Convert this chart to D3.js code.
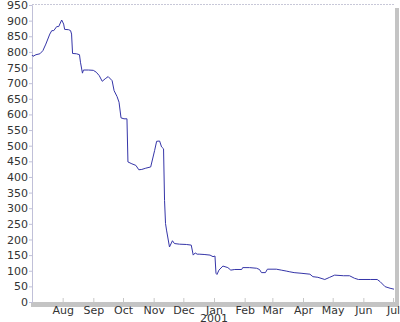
<!DOCTYPE html>
<html>
<head>
<meta charset="utf-8">
<script src="https://cdn.jsdelivr.net/npm/d3@7"></script>
<style>
  body { margin: 0; background: #fff; }
  text { font-family: "DejaVu Sans", Verdana, sans-serif; }
</style>
</head>
<body>
<div id="plot"></div>
<script>
// Width and height
const w = 400;
const h = 322;
const margin = {top: 5, right: 5, bottom: 20, left: 32};
const innerWidth = w - margin.left - margin.right;
const innerHeight = h - margin.top - margin.bottom;

// series
const dates = [
  "2000-07-01","2000-07-02","2000-07-05","2000-07-09","2000-07-12","2000-07-15",
  "2000-07-19","2000-07-21","2000-07-23","2000-07-26","2000-07-28","2000-07-31",
  "2000-08-02","2000-08-03","2000-08-07","2000-08-09","2000-08-10","2000-08-11",
  "2000-08-15","2000-08-18","2000-08-19","2000-08-21","2000-08-22","2000-08-27",
  "2000-09-01","2000-09-04","2000-09-07","2000-09-10","2000-09-13","2000-09-16",
  "2000-09-20","2000-09-22","2000-09-25","2000-09-27","2000-09-29","2000-10-02",
  "2000-10-05","2000-10-06","2000-10-10","2000-10-14","2000-10-17","2000-10-20",
  "2000-10-24","2000-10-29","2000-11-02","2000-11-04","2000-11-07","2000-11-09",
  "2000-11-11","2000-11-12","2000-11-13","2000-11-14","2000-11-17","2000-11-20",
  "2000-11-22","2000-11-27","2000-12-04","2000-12-09","2000-12-11","2000-12-13",
  "2000-12-15","2000-12-17","2000-12-22","2000-12-28","2000-12-31","2001-01-02",
  "2001-01-03","2001-01-04","2001-01-06","2001-01-10","2001-01-15","2001-01-18",
  "2001-01-22","2001-01-29","2001-01-30","2001-02-06","2001-02-13","2001-02-16",
  "2001-02-18","2001-02-22","2001-02-24","2001-03-05","2001-03-10","2001-03-15",
  "2001-03-18","2001-03-23","2001-03-30","2001-04-08","2001-04-11","2001-04-16",
  "2001-04-23","2001-04-28","2001-05-03","2001-05-12","2001-05-18","2001-05-23",
  "2001-05-27","2001-06-08","2001-06-15","2001-06-18","2001-06-23","2001-06-28",
  "2001-07-02"
];
const values = [
  790, 786, 791, 794, 804, 825,
  857, 868, 868, 881, 881, 902,
  889, 872, 871, 868, 857, 795,
  794, 791, 767, 732, 742, 742,
  741, 735, 724, 706, 714, 721,
  708, 676, 657, 639, 589, 586,
  586, 448, 442, 437, 423, 424,
  428, 432, 485, 514, 515, 496,
  490, 325, 251, 230, 176, 196,
  187, 185, 184, 182, 150, 157,
  153, 153, 152, 150, 145, 147,
  92, 88, 102, 115, 110, 102,
  104, 104, 110, 110, 108, 104,
  94, 94, 105, 105, 102, 99,
  97, 94, 92, 89, 81, 79,
  72, 79, 86, 84, 84, 76,
  72, 72, 72, 65, 49, 44,
  41
];
const yTicks = [0, 50, 100, 150, 200, 250, 300, 350, 400, 450, 500, 550, 600,
                650, 700, 750, 800, 850, 900, 950];
const monthLabels = ["Aug","Sep","Oct","Nov","Dec","Jan","Feb","Mar","Apr","May","Jun","Jul"];

const parse = d3.timeParse("%Y-%m-%d");
const data = dates.map((d, i) => ({date: parse(d), value: values[i]}));
const monthTicks = d3.timeMonth.range(parse("2000-08-01"), parse("2001-07-02"));

const svg = d3.select("div#plot")
  .append("svg")
    .attr("width", w)
    .attr("height", h);

svg.append("rect")
  .attr("width", w)
  .attr("height", h)
  .attr("fill", "#ffffff");

const xScale = d3.scaleTime()
  .domain([parse("2000-07-01"), parse("2001-07-03")])
  .range([0, innerWidth]);

const yScale = d3.scaleLinear()
  .domain([0, 950])
  .range([innerHeight, 0]);

const g = svg.append("g")
  .attr("id", "plot")
  .attr("transform", `translate(${margin.left}, ${margin.top})`);

// shadow on the right and bottom
g.append("rect")
  .attr("x", innerWidth)
  .attr("y", 3)
  .attr("width", 4)
  .attr("height", innerHeight + 2)
  .attr("fill", "#c4c4c4");
g.append("rect")
  .attr("x", -1)
  .attr("y", innerHeight)
  .attr("width", innerWidth + 5)
  .attr("height", 5)
  .attr("fill", "#c4c4c4");

// top border, dotted
g.append("line")
  .attr("x1", 0)
  .attr("x2", innerWidth)
  .attr("y1", -0.5)
  .attr("y2", -0.5)
  .attr("stroke", "#c8c8d8")
  .attr("stroke-dasharray", "2,1");

// y-axis
const yAxis = d3.axisLeft(yScale)
  .tickValues(yTicks)
  .tickSize(3)
  .tickPadding(1);

g.append("g")
  .attr("id", "yaxis")
  .call(yAxis)
  .call(a => a.select(".domain").attr("stroke", "#c0c0d8"))
  .call(a => a.selectAll(".tick line").attr("stroke", "#c0c0d8"))
  .call(a => a.selectAll(".tick text")
    .attr("fill", "#333")
    .style("font-size", "11px"));

// x-axis
const xAxis = d3.axisBottom(xScale)
  .tickValues(monthTicks)
  .tickSize(-4)
  .tickPadding(4)
  .tickFormat((d, i) => monthLabels[i]);

g.append("g")
  .attr("id", "xaxis")
  .attr("transform", `translate(0, ${innerHeight})`)
  .call(xAxis)
  .call(a => a.select(".domain").remove())
  .call(a => a.selectAll(".tick line").attr("stroke", "#c8c8c8"))
  .call(a => a.selectAll(".tick text")
    .attr("fill", "#333")
    .style("font-size", "11px"));

// year label under Jan
g.append("text")
  .attr("x", xScale(parse("2001-01-01")))
  .attr("y", innerHeight + 20)
  .attr("text-anchor", "middle")
  .attr("fill", "#333")
  .style("font-size", "11px")
  .text("2001");

// the line
const line = d3.line()
  .x(d => xScale(d.date))
  .y(d => yScale(d.value));

g.append("path")
  .datum(data)
  .attr("fill", "none")
  .attr("stroke", "#3535a8")
  .attr("stroke-width", 1)
  .attr("d", line);
</script>
</body>
</html>
